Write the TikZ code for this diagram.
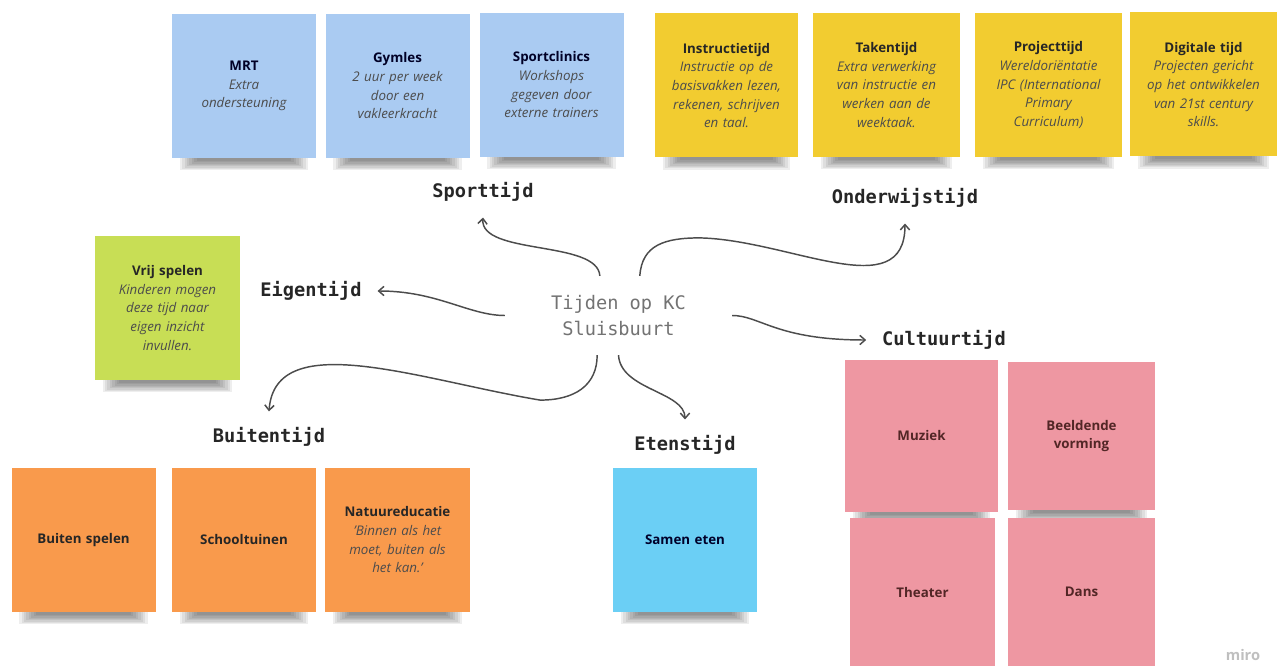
\documentclass[tikz,border=0pt]{standalone}
\usepackage{fontspec}
\setmainfont{Open Sans}
\newfontfamily\codefont{DejaVu Sans Mono}
\usetikzlibrary{arrows.meta,backgrounds}

\definecolor{sportblue}{HTML}{AACBF2}
\definecolor{lesyellow}{HTML}{F2CC30}
\definecolor{eigengreen}{HTML}{C8DE55}
\definecolor{buitenorange}{HTML}{F99A4C}
\definecolor{etencyan}{HTML}{6BCFF5}
\definecolor{cultuurpink}{HTML}{EE97A2}

\tikzset{>={Straight Barb[length=4pt,width=7pt]}}
\tikzset{
  note/.style={minimum width=108pt, minimum height=108pt, inner sep=3pt, align=center,
    text width=100pt, font=\fontsize{10}{14}\selectfont, text=black!80},
  sportnote/.style={note, fill=sportblue, text=black!75!blue!60!black},
  lesnote/.style={note, fill=lesyellow, minimum width=110pt, text=black!85},
  eigennote/.style={note, fill=eigengreen, text=black!85},
  buitennote/.style={note, fill=buitenorange, text=black!85},
  etennote/.style={note, fill=etencyan, text=black!60!blue!40!black},
  cultuurnote/.style={note, fill=cultuurpink, minimum width=110pt, minimum height=111pt, text=red!20!black!85},
  tijdlabel/.style={font=\codefont\bfseries\fontsize{14}{17}\selectfont, text=black!85, inner sep=2pt, outer sep=10pt},
  link/.style={->, draw=black!70, line width=1.1pt},
}
\newcommand{\uitleg}[1]{{\itshape\color{black!70}#1\par}}

\begin{document}
\begin{tikzpicture}[x=0.75pt,y=-0.75pt]
  \useasboundingbox (0,0) rectangle (1279,666);
  % Centrum
  \node[minimum width=170pt, minimum height=59pt, align=center, text=black!55,
        font=\codefont\fontsize{14}{19}\selectfont] (hub) at (618.5,315.5) {Tijden op KC\\Sluisbuurt};

  % Sporttijd
  \node[sportnote] (mrt) at (244,86) {\textbf{MRT}\\\uitleg{Extra\\ondersteuning}};
  \node[sportnote] (gymles) at (397.5,86) {\textbf{Gymles}\\\uitleg{2 uur per week\\door een\\vakleerkracht}};
  \node[sportnote] (clinics) at (551.5,85) {\textbf{Sportclinics}\\\uitleg{Workshops\\gegeven door\\externe trainers}};
  \node[tijdlabel] (sport) at (483,192) {Sporttijd};

  % Onderwijstijd
  \node[lesnote, minimum width=107pt] (instructie) at (726.5,85.5) {\textbf{Instructietijd}\\\uitleg{Instructie op de\\basisvakken lezen,\\rekenen, schrijven\\en taal.}};
  \node[lesnote] (taken) at (886.5,85) {\textbf{Takentijd}\\\uitleg{Extra verwerking\\van instructie en\\werken aan de\\weektaak.}};
  \node[lesnote] (project) at (1048.5,85) {\textbf{Projecttijd}\\\uitleg{Wereldoriëntatie\\IPC (International\\Primary\\Curriculum)}};
  \node[lesnote] (digitaal) at (1203.5,84.5) {\textbf{Digitale tijd}\\\uitleg{Projecten gericht\\op het ontwikkelen\\van 21st century\\skills.}};
  \node[tijdlabel] (onderwijs) at (905,198) {Onderwijstijd};

  % Eigentijd
  \node[eigennote, minimum width=109pt] (vrij) at (167.5,308) {\textbf{Vrij spelen}\\\uitleg{Kinderen mogen\\deze tijd naar\\eigen inzicht\\invullen.}};
  \node[tijdlabel] (eigen) at (311,291) {Eigentijd};

  % Buitentijd
  \node[buitennote] (spelen) at (83.5,540) {\textbf{Buiten spelen}};
  \node[buitennote] (tuinen) at (244,540) {\textbf{Schooltuinen}};
  \node[buitennote, minimum width=109pt] (natuur) at (397.5,540) {\textbf{Natuureducatie}\\\uitleg{'Binnen als het\\moet, buiten als\\het kan.'}};
  \node[tijdlabel] (buiten) at (269,437) {Buitentijd};

  % Etenstijd
  \node[etennote] (samen) at (685,540) {\textbf{Samen eten}};
  \node[tijdlabel] (eten) at (685,445) {Etenstijd};

  % Cultuurtijd
  \node[cultuurnote, minimum width=114.75pt, minimum height=114pt] (muziek) at (921.5,436) {\textbf{Muziek}};
  \node[cultuurnote] (beeldend) at (1081.5,436) {\textbf{Beeldende}\\\textbf{vorming}};
  \node[cultuurnote, minimum width=108.75pt] (theater) at (922.5,592) {\textbf{Theater}};
  \node[cultuurnote] (dans) at (1081.5,592) {\textbf{Dans}};
  \node[tijdlabel] (cultuur) at (944,340) {Cultuurtijd};

  % schaduw onder de briefjes
  \begin{pgfonlayer}{background}
    \foreach \n in {mrt,gymles,clinics,instructie,taken,project,digitaal,vrij,spelen,tuinen,natuur,samen,muziek,beeldend,theater,dans}
      \foreach \k in {0,...,7}
        \fill[black, opacity=0.065] ([xshift={6pt+1.8pt*\k}, yshift={-9pt+1pt*\k}]\n.south west)
                                    rectangle ([xshift={-6pt-1.8pt*\k}, yshift=10pt]\n.south east);
  \end{pgfonlayer}

  % Pijlen vanuit het centrum
  \draw[link] ([xshift=-14pt]hub.north) .. controls +(-2,-36) and +(-3,38) .. (sport.south);
  \draw[link] ([xshift=16pt]hub.north) .. controls +(2,-31) and +(-35,0) .. ++(60,-38)
              .. controls +(90,2) and +(0,83) .. (onderwijs.south);
  \draw[link] (hub.west) .. controls +(-36,0) and +(60,0) .. (eigen.east);
  \draw[link] (hub.east) .. controls +(28,0) and +(-90,0) .. (cultuur.west);
  \draw[link] ([xshift=-16pt]hub.south) .. controls +(0,30) and +(35,0) .. ++(-57,45)
              .. controls +(-120,-20) and +(6,-85) .. (buiten.north);
  \draw[link] (hub.south) .. controls +(2,35) and +(0,-28) .. (eten.north);

  % watermerk
  \node[font=\bfseries\fontsize{11}{13}\selectfont, text=black!25] (miro) at (1243,655) {miro};
\end{tikzpicture}
\end{document}
